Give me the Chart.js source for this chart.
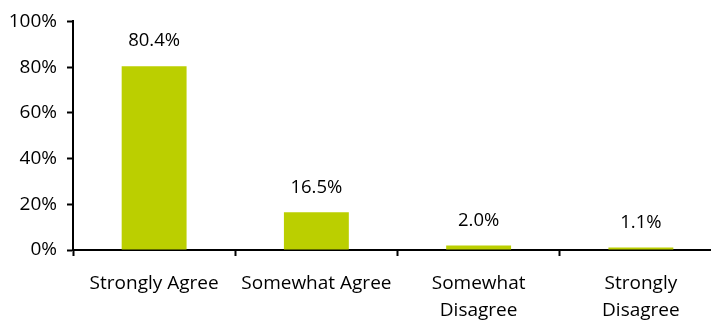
<!DOCTYPE html>
<html>
<head>
<meta charset="utf-8">
<script src="https://cdn.jsdelivr.net/npm/chart.js@4"></script>
<style>
  html, body { margin: 0; padding: 0; overflow: hidden; background: #fff; }
  #wrap { width: 722px; height: 320px; }
</style>
</head>
<body>
<div id="wrap"><canvas id="chart1"></canvas></div>
<script>
var categories = [['Strongly Agree'], ['Somewhat Agree'], ['Somewhat', 'Disagree'], ['Strongly', 'Disagree']];
var shares = [80.4, 16.5, 2.0, 1.1];
var yTicks = [0, 20, 40, 60, 80, 100];

var fontFamily = '"Open Sans", "Noto Sans", sans-serif';

// draws the value above each bar
var barLabels = {
  id: 'barLabels',
  afterDatasetsDraw: function(chart) {
    var ctx = chart.ctx;
    var meta = chart.getDatasetMeta(0);
    ctx.save();
    ctx.fillStyle = '#000';
    ctx.font = '18.5px ' + fontFamily;
    ctx.textAlign = 'center';
    ctx.textBaseline = 'middle';
    meta.data.forEach(function(bar, i) {
      ctx.fillText(shares[i].toFixed(1) + '%', bar.x, bar.y - 25);
    });
    ctx.restore();
  }
};

var graph = document.getElementById('chart1');

var myChart = new Chart(graph, {
  type: 'bar',
  data: {
    labels: categories,
    datasets: [{
      data: shares,
      backgroundColor: '#bbcf00',
      barPercentage: 0.8,
      categoryPercentage: 0.5
    }]
  },
  options: {
    responsive: true,
    maintainAspectRatio: false,
    animation: false,
    layout: { padding: { top: 11, left: 0, right: 0, bottom: 0 } },
    plugins: {
      legend: { display: false },
      tooltip: { enabled: false }
    },
    scales: {
      x: {
        offset: true,
        grid: {
          offset: true,
          drawOnChartArea: false,
          drawTicks: true,
          tickLength: 6,
          tickWidth: 2,
          tickColor: '#000'
        },
        border: { color: '#000', width: 2 },
        ticks: {
          color: '#000',
          font: { family: fontFamily, size: 19, lineHeight: 1.42 },
          padding: 14,
          maxRotation: 0,
          autoSkip: false
        },
        afterFit: function(scale) { scale.height = 70; }
      },
      y: {
        min: 0,
        max: 100,
        afterBuildTicks: function(scale) {
          scale.ticks = yTicks.map(function(v) { return { value: v }; });
        },
        grid: {
          drawOnChartArea: false,
          drawTicks: true,
          tickLength: 6,
          tickWidth: 2,
          tickColor: '#000'
        },
        border: { color: '#000', width: 2 },
        ticks: {
          color: '#000',
          font: { family: fontFamily, size: 19 },
          padding: 10,
          callback: function(v) { return v + '%'; }
        },
        afterFit: function(scale) { scale.width = 73; }
      }
    }
  },
  plugins: [barLabels]
});
</script>
</body>
</html>
